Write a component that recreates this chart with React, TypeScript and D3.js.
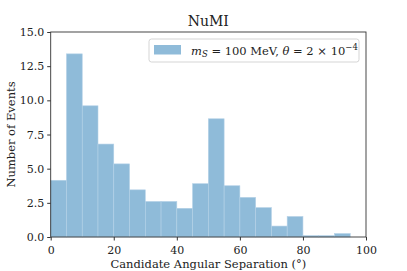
import React, { useEffect, useRef } from "react";
import * as d3 from "d3";

// histogram bins (degrees) and event counts per bin
const binEdges = [0, 5, 10, 15, 20, 25, 30, 35, 40, 45, 50, 55, 60, 65, 70, 75, 80, 85, 90, 95, 100];
const counts = [4.15, 13.4, 9.6, 6.8, 5.35, 3.45, 2.6, 2.6, 2.1, 3.9, 8.65, 3.75, 2.9, 2.15, 0.8, 1.5, 0.1, 0.1, 0.25, 0];
const xTicks = [0, 20, 40, 60, 80, 100];
const yTicks = [0, 2.5, 5, 7.5, 10, 12.5, 15];

const FONT = "'DejaVu Serif', 'Liberation Serif', serif";

export default function App() {
  const ref = useRef<SVGSVGElement | null>(null);

  useEffect(() => {
    const width = 407;
    const height = 271;
    const svg = d3.select(ref.current as any);
    svg.selectAll("*").remove();
    svg.attr("viewBox", `0 0 ${width} ${height}`);

    const margin = { top: 32, right: 41, bottom: 34, left: 50.7 };
    const innerW = width - margin.left - margin.right;
    const innerH = height - margin.top - margin.bottom;

    const x = d3.scaleLinear().domain([0, 100]).range([0, innerW]);
    const y = d3.scaleLinear().domain([0, 15]).range([innerH, 0]);

    const g = svg.append("g").attr("transform", `translate(${margin.left},${margin.top})`);

    const bins = counts.map((c, i) => ({ x0: binEdges[i], x1: binEdges[i + 1], value: c }));

    g.selectAll(".bar")
      .data(bins)
      .enter()
      .append("rect")
      .attr("class", "bar")
      .attr("x", d => x(d.x0))
      .attr("y", d => y(d.value))
      .attr("width", d => x(d.x1) - x(d.x0))
      .attr("height", d => innerH - y(d.value))
      .attr("fill", "#8fbbd9")
      .attr("stroke", "#b4d1e7")
      .attr("stroke-width", 0.6);

    // frame
    g.append("rect")
      .attr("width", innerW)
      .attr("height", innerH)
      .attr("fill", "none")
      .attr("stroke", "#333")
      .attr("stroke-width", 0.9);

    const xAxis = g.append("g").attr("transform", `translate(0,${innerH})`)
      .call(d3.axisBottom(x).tickValues(xTicks).tickFormat(d3.format("d")).tickSize(3.5).tickSizeOuter(0));
    xAxis.select(".domain").remove();
    xAxis.selectAll("line").attr("stroke", "#333");
    xAxis.selectAll("text").attr("fill", "#222").style("font-family", FONT).style("font-size", "11px").attr("dy", "0.95em");

    const yAxis = g.append("g")
      .call(d3.axisLeft(y).tickValues(yTicks).tickFormat(d3.format(".1f")).tickSize(3.5).tickSizeOuter(0));
    yAxis.select(".domain").remove();
    yAxis.selectAll("line").attr("stroke", "#333");
    yAxis.selectAll("text").attr("fill", "#222").style("font-family", FONT).style("font-size", "11px");

    svg.append("text")
      .attr("x", margin.left + innerW / 2)
      .attr("y", 26)
      .attr("text-anchor", "middle")
      .attr("fill", "#222")
      .style("font-family", FONT)
      .style("font-size", "14px")
      .text("NuMI");

    svg.append("text")
      .attr("x", margin.left + innerW / 2)
      .attr("y", 268)
      .attr("text-anchor", "middle")
      .attr("fill", "#222")
      .style("font-family", FONT)
      .style("font-size", "11.5px")
      .text("Candidate Angular Separation (°)");

    svg.append("text")
      .attr("transform", `translate(15,${margin.top + innerH / 2}) rotate(-90)`)
      .attr("text-anchor", "middle")
      .attr("fill", "#222")
      .style("font-family", FONT)
      .style("font-size", "11.5px")
      .text("Number of Events");

    // legend
    const lg = svg.append("g").attr("transform", "translate(149,39)");
    lg.append("rect")
      .attr("width", 210).attr("height", 23).attr("rx", 2.5)
      .attr("fill", "white").attr("fill-opacity", 0.8)
      .attr("stroke", "#d0d0d0").attr("stroke-width", 0.9);
    lg.append("rect")
      .attr("x", 5).attr("y", 6).attr("width", 27).attr("height", 9.5)
      .attr("fill", "#8fbbd9");
    const t = lg.append("text")
      .attr("x", 42).attr("y", 15.5)
      .attr("fill", "#222")
      .style("font-family", FONT)
      .style("font-size", "11.5px");
    t.append("tspan").style("font-style", "italic").text("m");
    t.append("tspan").style("font-style", "italic").style("font-size", "8.5px").attr("dy", 2.5).text("S");
    t.append("tspan").attr("dy", -2.5).text(" = 100 MeV, ");
    t.append("tspan").style("font-style", "italic").text("θ");
    t.append("tspan").text(" = 2 × 10");
    t.append("tspan").style("font-size", "8.5px").attr("dy", -5).text("−4");
  }, []);

  return (
    <svg ref={ref} width={407} height={271} style={{ position: "absolute", left: 0, top: 0, background: "white" }} />
  );
}
